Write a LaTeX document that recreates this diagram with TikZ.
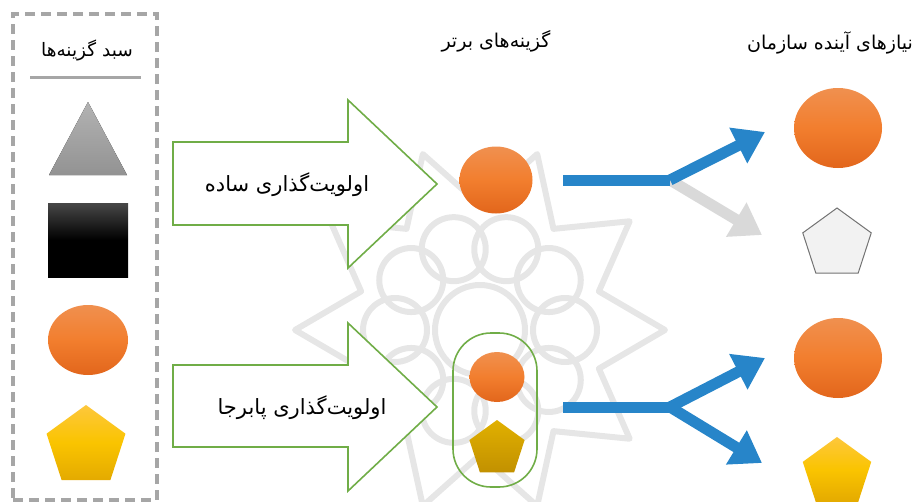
\documentclass[tikz,border=0pt]{standalone}
\usepackage{fontspec}
\newfontfamily\arabicfont[Script=Arabic]{DejaVu Sans}
\TeXXeTstate=1
\usetikzlibrary{shapes.geometric,arrows.meta}
\definecolor{boxgray}{HTML}{A6A6A6}
\definecolor{arrgreen}{HTML}{70AD47}
\definecolor{barblue}{HTML}{2785C9}
\definecolor{lgray}{HTML}{D9D9D9}
\definecolor{orTop}{HTML}{F0904F}
\definecolor{orMid}{HTML}{F27E2E}
\definecolor{orBot}{HTML}{E2661C}
\definecolor{yeTop}{HTML}{FDC73C}
\definecolor{yeMid}{HTML}{FAC400}
\definecolor{yeBot}{HTML}{E4AA00}
\definecolor{wmgray}{HTML}{E6E6E6}
\tikzset{
  fa/.style={font=\arabicfont\fontsize{#1}{#1}\selectfont, inner sep=0pt},
  garrow/.style={draw=arrgreen, line width=1.6pt, fill=white, line join=miter},
  orangeball/.style={ellipse, inner sep=0pt, top color=orTop, bottom color=orBot, middle color=orMid},
  penta/.style={regular polygon, regular polygon sides=5, inner sep=0pt, minimum size=#1},
  goldpenta/.style={penta=#1, top color=yeTop, bottom color=yeBot, middle color=yeMid},
  bluebar/.style={draw=barblue, line width=11pt},
  bluearrow/.style={bluebar, -{Triangle[length=30pt,width=38pt]}},
  grayarrow/.style={draw=lgray, line width=11pt, -{Triangle[length=30pt,width=38pt]}},
  wm/.style={draw=wmgray, line width=6pt, line join=round}
}
\begin{document}
\begin{tikzpicture}[x=1pt,y=-1pt]
\useasboundingbox (0,0) rectangle (920,501);
% faint watermark rosette
\begin{scope}[shift={(480,330)}]
  \foreach \a in {0,36,...,324} {
    \draw[wm] (\a:85) circle (32pt);
  }
  \draw[wm] (0,0) circle (45pt);
  \draw[wm] plot[samples=21, domain=0:360] (\x+18:{125+60*(mod(round(\x/18),2))}) -- cycle;
\end{scope}
% left dashed panel
\node[draw=boxgray, line width=4pt, dash pattern=on 10pt off 6pt, minimum width=144pt, minimum height=486pt, inner sep=0] (panel) at (85,257) {};
\node[fa=18.5] (ttl) at (87,50) {\beginR سبد گزینه‌ها\endR};
\draw[boxgray, line width=3pt] (30,77) coordinate (ul1) -- (141,77) coordinate (ul2);
\fill[top color=gray!60, bottom color=gray!85] (88,102) coordinate (tri) -- (127,175) -- (49,175) -- cycle;
\node[inner sep=0, minimum width=80pt, minimum height=74pt, top color=black!72, bottom color=black, middle color=black] (sq) at (88,240) {};
\node[orangeball, minimum width=80pt, minimum height=70pt] (cl) at (88,340) {};
\node[goldpenta=83pt] (pl) at (86,446.5) {};
% green block arrows
\draw[garrow] (173,142) -- (348,142) -- (348,100) -- (437,184) -- (348,268) -- (348,225) -- (173,225) -- cycle;
\node[fa=21] (t1) at (287,185) {\beginR اولویت‌گذاری ساده\endR};
\draw[garrow] (173,365) -- (348,365) -- (348,323) -- (437,407) -- (348,491) -- (348,447) -- (173,447) -- cycle;
\node[fa=21] (t2) at (302,408) {\beginR اولویت‌گذاری پابرجا\endR};
% headers
\node[fa=19] (h1) at (496,41) {\beginR گزینه‌های برتر\endR};
\node[fa=19] (h2) at (830,43) {\beginR نیازهای آینده سازمان\endR};
% middle column
\node[orangeball, minimum width=73pt, minimum height=67pt] (mc) at (496,180) {};
\node[draw=arrgreen, line width=1.6pt, rounded corners=38pt, minimum width=84pt, minimum height=154pt, inner sep=0] (grp) at (495,410) {};
\node[orangeball, minimum width=55pt, minimum height=50pt] (mc2) at (497,377) {};
\node[penta=58pt, top color=yeMid!90!black, bottom color=yeBot!85!black] (mp) at (497,449) {};
% right column
\node[orangeball, minimum width=88pt, minimum height=80pt] (rc1) at (838,128) {};
\node[penta=72pt, fill=black!5, draw=black!55, line width=1pt] (rp1) at (837,244) {};
\node[orangeball, minimum width=88pt, minimum height=80pt] (rc2) at (838,358) {};
\node[goldpenta=72pt] (rp2) at (837,473) {};
% blue connectors
\coordinate (s1) at (563,180);
\coordinate (j1) at (670,180);
\coordinate (u1) at (765,132);
\coordinate (d1) at (762,235);
\coordinate (s2) at (563,407);
\coordinate (j2) at (670,407);
\coordinate (u2) at (765,358);
\coordinate (d2) at (762,463);
\draw[grayarrow] (j1) -- (d1);
\draw[bluebar] (s1) -- (j1);
\draw[bluearrow] (j1) -- (u1);
\draw[bluebar] (s2) -- (j2);
\draw[bluearrow] (j2) -- (u2);
\draw[bluearrow] (j2) -- (d2);
\end{tikzpicture}
\end{document}
